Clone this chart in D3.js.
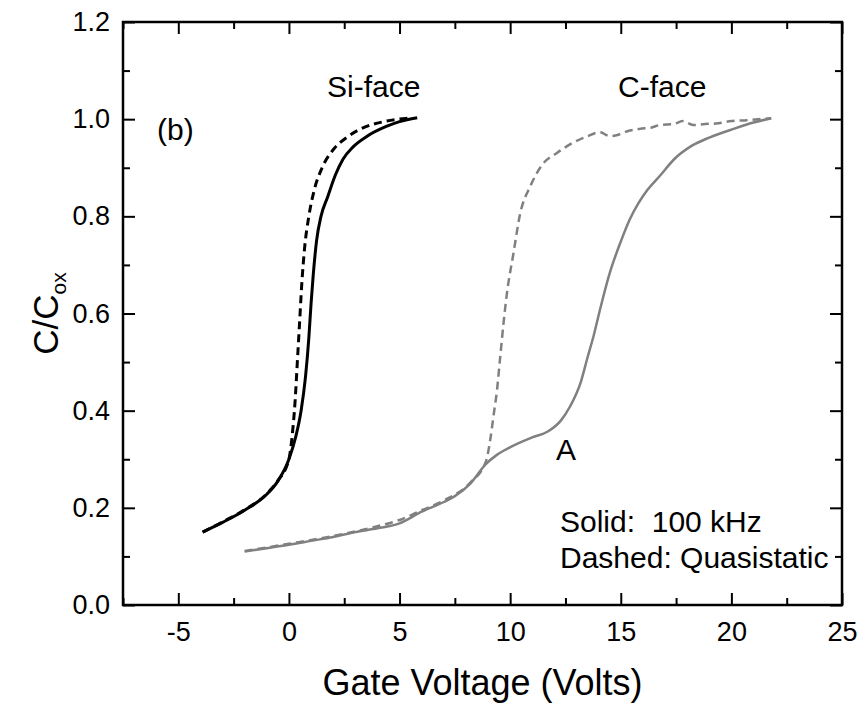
<!DOCTYPE html>
<html>
<head>
<meta charset="utf-8">
<script src="https://cdn.jsdelivr.net/npm/d3@7"></script>
<style>
  body { margin: 0; background: #fff; }
  svg text { font-family: "Liberation Sans", Arial, sans-serif; fill: #000; }
</style>
</head>
<body>
<div id="chart"></div>
<script>
// C/Cox vs gate voltage
const siSolid = [[-3.9,0.150],[-3,0.170],[-2,0.195],[-1,0.228],[-0.5,0.255],[0,0.300],[0.3,0.345],[0.55,0.400],[0.75,0.470],[0.9,0.550],[1.0,0.620],[1.1,0.680],[1.25,0.750],[1.45,0.800],[1.75,0.840],[2.1,0.885],[2.45,0.918],[2.9,0.943],[3.5,0.964],[4.4,0.985],[5.0,0.995],[5.8,1.003]];
const siDashed = [[-3.9,0.150],[-3,0.171],[-2,0.196],[-1,0.229],[-0.5,0.256],[0.0,0.300],[0.15,0.350],[0.28,0.420],[0.38,0.500],[0.48,0.580],[0.58,0.660],[0.72,0.740],[0.9,0.800],[1.15,0.855],[1.5,0.900],[2.0,0.937],[2.6,0.962],[3.4,0.983],[4.3,0.995],[5.4,1.002]];
const cSolid = [[-2.0,0.110],[-1,0.117],[0,0.124],[1,0.132],[2,0.140],[3,0.150],[4,0.158],[5,0.168],[6,0.192],[7,0.212],[7.5,0.224],[8.2,0.250],[8.9,0.290],[9.4,0.309],[10.1,0.327],[11,0.345],[11.7,0.357],[12.3,0.380],[12.7,0.408],[13.2,0.460],[13.5,0.510],[13.75,0.550],[14.1,0.615],[14.5,0.683],[15.0,0.748],[15.4,0.793],[15.8,0.827],[16.2,0.854],[16.8,0.885],[17.4,0.917],[18.2,0.945],[19.0,0.962],[20.1,0.980],[21.0,0.993],[21.8,1.002]];
const cDashed = [[-2.0,0.111],[0,0.126],[2,0.142],[4,0.162],[5,0.175],[6,0.195],[7,0.215],[8.2,0.252],[8.9,0.295],[9.1,0.340],[9.25,0.390],[9.4,0.440],[9.55,0.510],[9.7,0.580],[9.85,0.640],[10.15,0.724],[10.45,0.805],[10.9,0.861],[11.5,0.909],[12.1,0.930],[12.86,0.952],[13.5,0.965],[14.06,0.973],[14.5,0.965],[14.81,0.967],[15.3,0.975],[15.86,0.980],[16.4,0.983],[16.78,0.988],[17.4,0.990],[17.8,0.996],[18.28,0.988],[18.8,0.990],[19.3,0.991],[20.0,0.996],[20.7,0.998],[21.8,1.002]];

const xTicks = [-5, 0, 5, 10, 15, 20, 25];
const xMinor = [-7.5, -2.5, 2.5, 7.5, 12.5, 17.5, 22.5];
const yTicks = [0, 0.2, 0.4, 0.6, 0.8, 1.0, 1.2];
const yMinor = [0.1, 0.3, 0.5, 0.7, 0.9, 1.1];

const width = 860, height = 709;
const plotL = 123, plotR = 842, plotT = 22, plotB = 605;

const svg = d3.select("#chart").append("svg")
  .attr("width", width)
  .attr("height", height);

const x = d3.scaleLinear().domain([-7.5, 25]).range([plotL, plotR]);
const y = d3.scaleLinear().domain([0, 1.2]).range([plotB, plotT]);

// axes, ticks point inward
function styleAxis(g) {
  g.selectAll("path").remove();
  g.selectAll("line").attr("stroke", "#000").attr("stroke-width", 2);
  g.selectAll("text").style("font-size", "27px");
}

svg.append("g").attr("transform", `translate(0,${plotB})`)
  .call(d3.axisBottom(x).tickValues(xTicks).tickSize(-12).tickPadding(17).tickFormat(d => String(d)))
  .call(styleAxis);
svg.append("g").attr("transform", `translate(0,${plotB})`)
  .call(d3.axisBottom(x).tickValues(xMinor).tickSize(-7).tickFormat(""))
  .call(styleAxis);
svg.append("g").attr("transform", `translate(0,${plotT})`)
  .call(d3.axisTop(x).tickValues(xTicks).tickSize(-12).tickFormat(""))
  .call(styleAxis);
svg.append("g").attr("transform", `translate(0,${plotT})`)
  .call(d3.axisTop(x).tickValues(xMinor).tickSize(-7).tickFormat(""))
  .call(styleAxis);

svg.append("g").attr("transform", `translate(${plotL},0)`)
  .call(d3.axisLeft(y).tickValues(yTicks).tickSize(-12).tickPadding(13).tickFormat(d3.format(".1f")))
  .call(styleAxis);
svg.append("g").attr("transform", `translate(${plotL},0)`)
  .call(d3.axisLeft(y).tickValues(yMinor).tickSize(-7).tickFormat(""))
  .call(styleAxis);
svg.append("g").attr("transform", `translate(${plotR},0)`)
  .call(d3.axisRight(y).tickValues(yTicks).tickSize(-12).tickFormat(""))
  .call(styleAxis);
svg.append("g").attr("transform", `translate(${plotR},0)`)
  .call(d3.axisRight(y).tickValues(yMinor).tickSize(-7).tickFormat(""))
  .call(styleAxis);

svg.append("rect")
  .attr("x", plotL).attr("y", plotT)
  .attr("width", plotR - plotL).attr("height", plotB - plotT)
  .attr("fill", "none").attr("stroke", "#000").attr("stroke-width", 2.5);

// curves
const line = d3.line()
  .x(d => x(d[0]))
  .y(d => y(d[1]))
  .curve(d3.curveMonotoneX);

const series = [
  { data: cSolid, color: "#808080", dash: null, w: 2.5 },
  { data: cDashed, color: "#808080", dash: "8,5", w: 2.5 },
  { data: siSolid, color: "#000", dash: null, w: 3 },
  { data: siDashed, color: "#000", dash: "8,5", w: 3 }
];

svg.selectAll("path.curve")
  .data(series)
  .enter()
  .append("path")
  .attr("class", "curve")
  .attr("d", d => line(d.data))
  .attr("fill", "none")
  .attr("stroke", d => d.color)
  .attr("stroke-width", d => d.w)
  .attr("stroke-dasharray", d => d.dash);

// labels
const notes = [
  { t: "Si-face", x: 327, y: 97 },
  { t: "C-face", x: 618, y: 97 },
  { t: "(b)", x: 157, y: 140 },
  { t: "A", x: 556, y: 460 },
  { t: "Solid:  100 kHz", x: 560, y: 532 },
  { t: "Dashed: Quasistatic", x: 560, y: 568 }
];
svg.selectAll("text.note")
  .data(notes)
  .enter()
  .append("text")
  .attr("class", "note")
  .attr("x", d => d.x)
  .attr("y", d => d.y)
  .style("font-size", "30px")
  .style("white-space", "pre")
  .text(d => d.t);

svg.append("text")
  .attr("x", (plotL + plotR) / 2)
  .attr("y", 695)
  .attr("text-anchor", "middle")
  .style("font-size", "36px")
  .text("Gate Voltage (Volts)");

const yTitle = svg.append("text")
  .attr("transform", `translate(58,${(plotT + plotB) / 2}) rotate(-90)`)
  .attr("text-anchor", "middle")
  .style("font-size", "35px");
yTitle.append("tspan").text("C/C");
yTitle.append("tspan").attr("dy", 8).style("font-size", "21px").text("ox");
</script>
</body>
</html>
